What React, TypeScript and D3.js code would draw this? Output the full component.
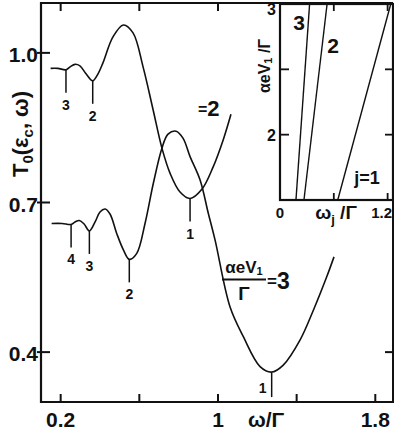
import React from 'react';
import * as d3 from 'd3';

// ---------- main chart data ----------
const xTicks = [0.2, 0.6, 1.0, 1.4, 1.8];
const xTickLabels = ['0.2', '', '1', '', '1.8'];
const yTicks = [0.4, 0.7, 1.0];
const yTickLabels = ['0.4', '0.7', '1.0'];
const rightTicks = [0.4];

// aeV1/Γ = 2
const omegaA = [0.149, 0.186, 0.227, 0.248, 0.273, 0.298, 0.329, 0.363, 0.39, 0.415, 0.466, 0.519, 0.568, 0.619, 0.67, 0.715, 0.756, 0.807, 0.858, 0.919, 0.975, 1.026, 1.066];
const tA = [0.969, 0.969, 0.966, 0.972, 0.977, 0.974, 0.958, 0.944, 0.958, 0.98, 1.032, 1.056, 1.04, 0.972, 0.886, 0.809, 0.759, 0.721, 0.708, 0.727, 0.771, 0.825, 0.877];

// aeV1/Γ = 3
const omegaB = [0.154, 0.207, 0.253, 0.273, 0.295, 0.319, 0.346, 0.375, 0.4, 0.426, 0.451, 0.485, 0.519, 0.549, 0.587, 0.629, 0.671, 0.715, 0.746, 0.787, 0.822, 0.858, 0.909, 0.951, 0.985, 1.061, 1.129, 1.214, 1.273, 1.332, 1.417, 1.485, 1.553, 1.59];
const tB = [0.658, 0.658, 0.656, 0.661, 0.664, 0.657, 0.643, 0.661, 0.681, 0.687, 0.677, 0.638, 0.605, 0.586, 0.598, 0.658, 0.738, 0.809, 0.837, 0.843, 0.829, 0.792, 0.745, 0.678, 0.625, 0.491, 0.431, 0.371, 0.36, 0.374, 0.424, 0.484, 0.551, 0.591];

const markerLabelsA = ['3', '2', '1'];
const markerOmegaA = [0.227, 0.363, 0.858];
const markerTA = [0.966, 0.944, 0.708];

const markerLabelsB = ['4', '3', '2', '1'];
const markerOmegaB = [0.253, 0.346, 0.549, 1.273];
const markerTB = [0.656, 0.643, 0.586, 0.36];

// ---------- inset data ----------
const insetJ = ['1', '2', '3'];
const insetV = [1.5, 3.0];
const insetOmega = [
  [0.644, 1.235],
  [0.267, 0.525],
  [0.178, 0.33],
];
const insetXTicks = [0.6, 1.2];
const insetXLabels = ['0', '1.2'];
const insetXLabelVals = [0, 1.2];
const insetYTicks = [2, 2.5];
const insetYLabels = ['2', '3'];
const insetYLabelVals = [2, 3];

const FONT = "'Liberation Sans Narrow', 'Arial Narrow', 'Liberation Sans', Arial, sans-serif";

export default function App() {
  const W = 394;
  const H = 436;
  const x = d3.scaleLinear().domain([0.1, 1.89]).range([41, 393]);
  const y = d3.scaleLinear().domain([0.3, 1.1]).range([402, 3]);

  const line = d3
    .line<[number, number]>()
    .x((d) => x(d[0]))
    .y((d) => y(d[1]))
    .curve(d3.curveCatmullRom.alpha(0.5));

  const ptsA = omegaA.map((w, i) => [w, tA[i]] as [number, number]);
  const ptsB = omegaB.map((w, i) => [w, tB[i]] as [number, number]);

  const ix = d3.scaleLinear().domain([0, 1.26]).range([280, 393]);
  const iy = d3.scaleLinear().domain([1.5, 3]).range([200, 4]);
  const iline = d3
    .line<[number, number]>()
    .x((d) => ix(d[0]))
    .y((d) => iy(d[1]));

  const stroke = '#111';
  const mLen = 23;

  return (
    <svg width={W} height={H} style={{ position: 'absolute', left: 0, top: 0, background: '#fff' }} fontFamily={FONT}>
      <rect x={0} y={0} width={W} height={H} fill="#fff" />
      {/* frame */}
      <line x1={41} y1={2} x2={41} y2={403} stroke={stroke} strokeWidth={2.2} />
      <line x1={40} y1={402} x2={394} y2={402} stroke={stroke} strokeWidth={2.2} />
      <line x1={40} y1={3} x2={393} y2={3} stroke={stroke} strokeWidth={2} />
      <line x1={393} y1={3} x2={393} y2={402} stroke={stroke} strokeWidth={2} />

      {/* x ticks */}
      {xTicks.map((t, i) => (
        <g key={'xt' + i}>
          <line x1={x(t)} x2={x(t)} y1={402} y2={394} stroke={stroke} strokeWidth={2} />
          <line x1={x(t)} x2={x(t)} y1={3} y2={11} stroke={stroke} strokeWidth={2} />
          {xTickLabels[i] && (
            <text x={x(t)} y={427} textAnchor="middle" fontSize={21} fontWeight="bold" fill={stroke}>
              {xTickLabels[i]}
            </text>
          )}
        </g>
      ))}
      <text x={266} y={427} textAnchor="middle" fontSize={21} fontWeight="bold" fill={stroke}>
        ω/Γ
      </text>

      {/* y ticks */}
      {yTicks.map((t, i) => (
        <g key={'yt' + i}>
          <line x1={37} x2={50} y1={y(t)} y2={y(t)} stroke={stroke} strokeWidth={2} />
          <text x={38} y={y(t) + 9} textAnchor="end" fontSize={21} fontWeight="bold" fill={stroke}>
            {yTickLabels[i]}
          </text>
        </g>
      ))}
      {rightTicks.map((t, i) => (
        <line key={'rt' + i} x1={385} x2={393} y1={y(t)} y2={y(t)} stroke={stroke} strokeWidth={2} />
      ))}

      {/* y axis title */}
      <text transform="translate(28,134) rotate(-90)" textAnchor="middle" fontSize={22} fontWeight="bold" fill={stroke}>
        T<tspan fontSize={15} dy={5}>0</tspan>
        <tspan dy={-5}>(ε</tspan>
        <tspan fontSize={15} dy={5}>c</tspan>
        <tspan dy={-5}>, ω)</tspan>
      </text>

      {/* curves */}
      <path d={line(ptsA) || ''} fill="none" stroke={stroke} strokeWidth={1.6} />
      <path d={line(ptsB) || ''} fill="none" stroke={stroke} strokeWidth={1.6} />

      {/* markers A */}
      {markerOmegaA.map((w, i) => (
        <g key={'ma' + i}>
          <line x1={x(w)} x2={x(w)} y1={y(markerTA[i])} y2={y(markerTA[i]) + mLen} stroke={stroke} strokeWidth={1.5} />
          <text x={x(w)} y={y(markerTA[i]) + mLen + 17} textAnchor="middle" fontSize={14} fontWeight="bold" fill={stroke}>
            {markerLabelsA[i]}
          </text>
        </g>
      ))}
      {/* markers B */}
      {markerOmegaB.map((w, i) => {
        const last = i === markerOmegaB.length - 1;
        return (
          <g key={'mb' + i}>
            <line x1={x(w)} x2={x(w)} y1={y(markerTB[i])} y2={y(markerTB[i]) + mLen + (last ? 2 : 0)} stroke={stroke} strokeWidth={1.5} />
            <text
              x={last ? x(w) - 9 : x(w)}
              y={last ? y(markerTB[i]) + 21 : y(markerTB[i]) + mLen + 17}
              textAnchor="middle"
              fontSize={14}
              fontWeight="bold"
              fill={stroke}
            >
              {markerLabelsB[i]}
            </text>
          </g>
        );
      })}

      {/* curve labels */}
      <text x={198} y={116} fontSize={22} fontWeight="bold" fill={stroke}>
        <tspan fontSize={16} dy={-1}>=</tspan>
        <tspan dy={1}>2</tspan>
      </text>
      <text x={244} y={273} textAnchor="middle" fontSize={17} fontWeight="bold" fill={stroke}>
        αeV<tspan fontSize={11} dy={2}>1</tspan>
      </text>
      <line x1={222} x2={266} y1={279.5} y2={279.5} stroke={stroke} strokeWidth={1.8} />
      <text x={244} y={300} textAnchor="middle" fontSize={19} fontWeight="bold" fill={stroke}>
        Γ
      </text>
      <text x={267} y={289} fontSize={23} fontWeight="bold" fill={stroke}>
        <tspan fontSize={17} dy={-2}>=</tspan>
        <tspan dy={2}>3</tspan>
      </text>

      {/* inset */}
      <rect x={ix(0)} y={iy(3)} width={ix(1.26) - ix(0)} height={iy(1.5) - iy(3)} fill="#fff" stroke={stroke} strokeWidth={2.2} />
      {insetOmega.map((ws, i) => (
        <path
          key={'ij' + i}
          d={iline(ws.map((w, k) => [w, insetV[k]] as [number, number])) || ''}
          fill="none"
          stroke={stroke}
          strokeWidth={1.4}
        />
      ))}
      {insetXTicks.map((t, i) => (
        <g key={'ixt' + i}>
          <line x1={ix(t)} x2={ix(t)} y1={iy(1.5)} y2={iy(1.5) - 7} stroke={stroke} strokeWidth={1.8} />
          <line x1={ix(t)} x2={ix(t)} y1={iy(3)} y2={iy(3) + 7} stroke={stroke} strokeWidth={1.8} />
        </g>
      ))}
      {insetYTicks.map((t, i) => (
        <g key={'iyt' + i}>
          <line x1={ix(0)} x2={ix(0) + 9} y1={iy(t)} y2={iy(t)} stroke={stroke} strokeWidth={1.8} />
          <line x1={ix(1.26) - 8} x2={ix(1.26)} y1={iy(t)} y2={iy(t)} stroke={stroke} strokeWidth={1.8} />
        </g>
      ))}
      {insetXLabelVals.map((v, i) => (
        <text
          key={'ixl' + i}
          x={i === 1 ? 392 : ix(v)}
          y={218}
          textAnchor={i === 1 ? 'end' : 'middle'}
          fontSize={15}
          fontWeight="bold"
          fill={stroke}
        >
          {insetXLabels[i]}
        </text>
      ))}
      {insetYLabelVals.map((v, i) => (
        <text
          key={'iyl' + i}
          x={276}
          y={i === 1 ? 15 : iy(v) + 6}
          textAnchor="end"
          fontSize={16}
          fontWeight="bold"
          fill={stroke}
        >
          {insetYLabels[i]}
        </text>
      ))}
      <text x={336} y={219} textAnchor="middle" fontSize={19} fontWeight="bold" fill={stroke}>
        ω<tspan fontSize={13} dy={5}>j</tspan>
        <tspan dy={-5}> /Γ</tspan>
      </text>
      <text transform="translate(270,66) rotate(-90)" textAnchor="middle" fontSize={16} fontWeight="bold" fill={stroke}>
        αeV<tspan fontSize={11} dy={2}>1</tspan>
        <tspan dy={-2}> /Γ</tspan>
      </text>
      <text x={299} y={30} textAnchor="middle" fontSize={21} fontWeight="bold" fill={stroke}>
        {insetJ[2]}
      </text>
      <text x={333} y={53} textAnchor="middle" fontSize={21} fontWeight="bold" fill={stroke}>
        {insetJ[1]}
      </text>
      <text x={367} y={184} textAnchor="middle" fontSize={18} fontWeight="bold" fill={stroke}>
        j={insetJ[0]}
      </text>
    </svg>
  );
}
